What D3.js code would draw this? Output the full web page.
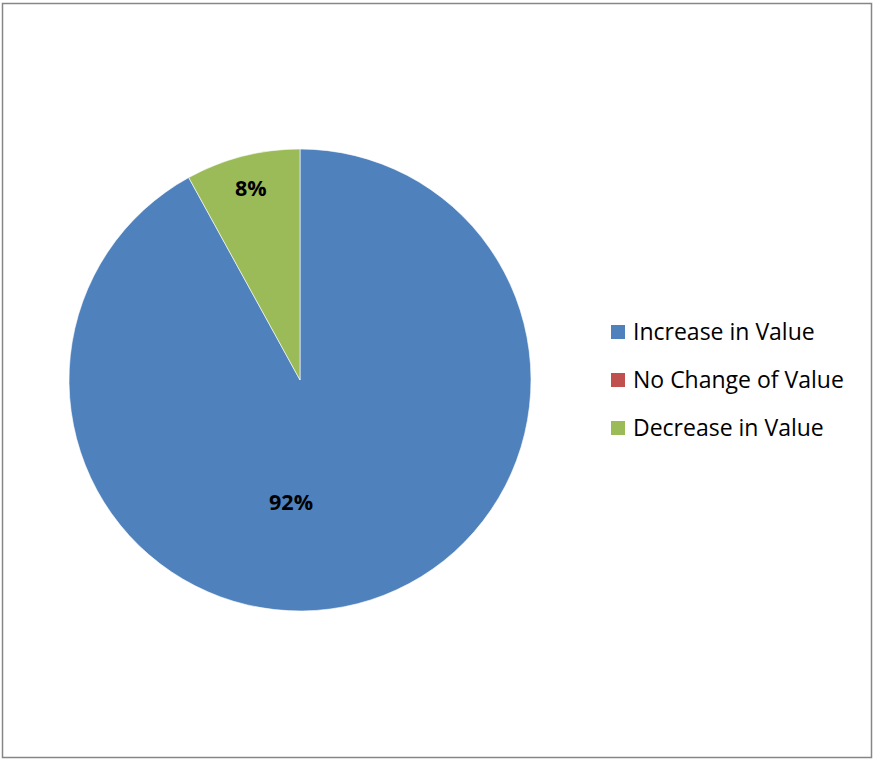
<!DOCTYPE html>
<html>
<head>
<meta charset="utf-8">
<script src="https://cdn.jsdelivr.net/npm/d3@7.9.0/dist/d3.min.js"></script>
<style>
  html, body { margin: 0; padding: 0; background: #fff; }
  svg { display: block; }
</style>
</head>
<body>
<div id="chart"></div>
<script>
const categories = ['Increase in Value', 'No Change of Value', 'Decrease in Value'];
const values = [92, 0, 8];
const colors = ['#4F81BD', '#C0504D', '#9BBB59'];

const width = 873;
const height = 759;
const cx = 300, cy = 380, radius = 231;

const svg = d3.select('#chart')
    .append('svg')
    .attr('width', width)
    .attr('height', height);

// chart border
svg.append('rect')
    .attr('x', 2.5)
    .attr('y', 3.5)
    .attr('width', 869)
    .attr('height', 754)
    .attr('fill', '#fff')
    .attr('stroke', '#868686')
    .attr('stroke-width', 1.5);

const total = d3.sum(values);
const pie = d3.pie().sort(null).value(d => d.value);
const slices = pie(categories.map((c, i) => ({ name: c, value: values[i], color: colors[i] })));

const arc = d3.arc().innerRadius(0).outerRadius(radius);

const g = svg.append('g').attr('transform', `translate(${cx},${cy})`);

g.selectAll('path')
    .data(slices.filter(d => d.value > 0))
    .join('path')
    .attr('d', arc)
    .attr('fill', d => d.data.color)
    .attr('stroke', '#fff')
    .attr('stroke-width', 0.6);

// data labels
g.selectAll('text.label')
    .data(slices.filter(d => d.value > 0))
    .join('text')
    .attr('class', 'label')
    .attr('transform', d => {
        let a = (d.startAngle + d.endAngle) / 2;
        let r = 198;
        if (d.value / total > 0.5) {
            // big slice label sits a bit further round, like Excel's best fit
            a = Math.PI + 0.073;
            r = 123;
        }
        return `translate(${r * Math.sin(a)},${-r * Math.cos(a)})`;
    })
    .attr('text-anchor', 'middle')
    .attr('dy', '0.36em')
    .style('font-family', '"Open Sans", "Noto Sans", sans-serif')
    .style('font-weight', 'bold')
    .style('font-size', '21.5px')
    .attr('fill', '#000')
    .text(d => d3.format('.0%')(d.value / total));

// legend
const legend = svg.append('g').attr('transform', 'translate(611,332)');
const rows = legend.selectAll('g')
    .data(categories)
    .join('g')
    .attr('transform', (d, i) => `translate(0,${i * 48})`);

rows.append('rect')
    .attr('x', 0)
    .attr('y', -7)
    .attr('width', 14)
    .attr('height', 14)
    .attr('fill', (d, i) => colors[i]);

rows.append('text')
    .attr('x', 22)
    .attr('dy', '0.36em')
    .style('font-family', '"Open Sans", "Noto Sans", sans-serif')
    .style('font-size', '23px')
    .attr('fill', '#000')
    .text(d => d);
</script>
</body>
</html>
